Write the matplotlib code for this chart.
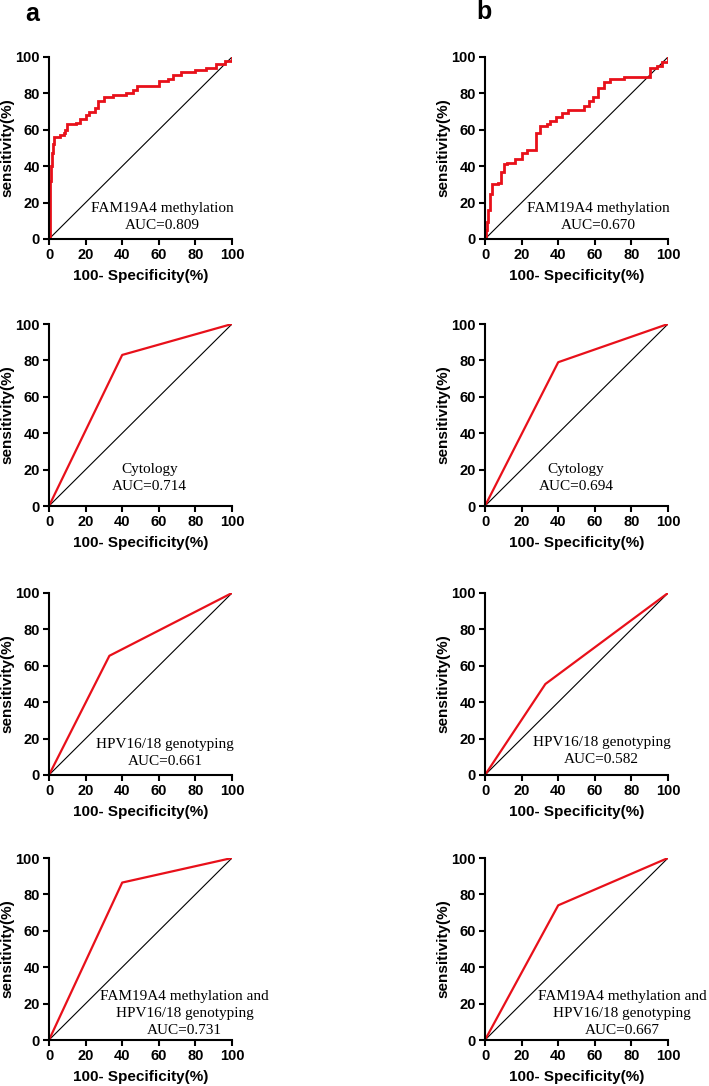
import matplotlib.pyplot as plt

# ROC data (100-specificity %, sensitivity %)
meth_a_fpr = [0, 0.5, 1, 1.5, 2, 3, 6, 8, 9, 10, 15, 17, 20, 22, 25, 27, 30, 35, 42, 46,
              48, 60, 65, 68, 72, 80, 86, 91, 96, 100]
meth_a_sens = [0, 32, 40, 47, 52, 56, 57, 58, 60, 63, 64, 66, 68, 70, 72, 76, 78, 79, 80, 82,
               84, 87, 88, 90, 92, 93, 94, 96, 98, 100]

meth_b_fpr = [0, 0.5, 0.9, 1.8, 2.7, 4, 7.3, 9, 10.4, 11.9, 16.4, 20, 22.8, 27.7, 30, 33.8,
              35.6, 39, 42, 45.6, 54, 56.6, 59, 62, 65, 68.4, 75.7, 90, 94, 96.7, 100]
meth_b_sens = [0, 5, 9.5, 16, 25, 30, 31, 37, 41, 42, 44, 47, 49, 58, 62, 63,
               65, 67, 69, 71, 73, 76, 78, 83, 86, 88, 89, 94, 95, 97, 100]

cyto_a = ([0, 40, 100], [0, 83, 100])
cyto_b = ([0, 40, 100], [0, 79, 100])
hpv_a = ([0, 33, 100], [0, 65.5, 100])
hpv_b = ([0, 33, 100], [0, 50, 100])
comb_a = ([0, 40, 100], [0, 86.5, 100])
comb_b = ([0, 40, 100], [0, 74, 100])

labels_a = ["FAM19A4 methylation\nAUC=0.809", "Cytology\nAUC=0.714",
            "HPV16/18 genotyping\nAUC=0.661",
            "FAM19A4 methylation and\nHPV16/18 genotyping\nAUC=0.731"]
labels_b = ["FAM19A4 methylation\nAUC=0.670", "Cytology\nAUC=0.694",
            "HPV16/18 genotyping\nAUC=0.582",
            "FAM19A4 methylation and\nHPV16/18 genotyping\nAUC=0.667"]

text_pos_a = [(62, 12), (55, 15.3), (63.4, 12.3), (74, 14.4)]
text_pos_b = [(62, 12), (49.7, 15.3), (63.6, 13.4), (75, 14.7)]

red = '#e8101a'
plt.rcParams['font.family'] = ['Liberation Sans', 'DejaVu Sans']

fig = plt.figure(figsize=(7.09, 10.86), dpi=100)

W, H = 709, 1086
col_left = [49, 485]
row_top = [57, 324, 593, 858]
ax_w, ax_h = 183, 182

curves_a = [(meth_a_fpr, meth_a_sens), cyto_a, hpv_a, comb_a]
curves_b = [(meth_b_fpr, meth_b_sens), cyto_b, hpv_b, comb_b]

for c, (curves, labels, tpos) in enumerate([(curves_a, labels_a, text_pos_a),
                                            (curves_b, labels_b, text_pos_b)]):
    for r in range(4):
        ax = fig.add_axes([col_left[c] / W, 1 - (row_top[r] + ax_h) / H, ax_w / W, ax_h / H])
        ax.plot([0, 100], [0, 100], color='black', lw=0.8)
        x, y = curves[r]
        if r == 0:
            ax.plot(x, y, color=red, lw=2.0, drawstyle='steps-post', solid_joinstyle='miter')
        else:
            ax.plot(x, y, color=red, lw=1.6)
        ax.set_xlim(0, 100)
        ax.set_ylim(0, 100)
        ax.set_xticks(range(0, 101, 20))
        ax.set_yticks(range(0, 101, 20))
        for s in ['top', 'right']:
            ax.spines[s].set_visible(False)
        for s in ['left', 'bottom']:
            ax.spines[s].set_linewidth(1.5)
        ax.tick_params(width=1.5, length=4, labelsize=10.5, pad=2.5)
        for lab in ax.get_xticklabels() + ax.get_yticklabels():
            lab.set_fontweight('bold')
        ax.set_xlabel('100- Specificity(%)', fontsize=11, fontweight='bold', labelpad=5)
        ax.set_ylabel('sensitivity(%)', fontsize=11, fontweight='bold', labelpad=1)
        ax.text(tpos[r][0], tpos[r][1], labels[r], ha='center', va='center',
                multialignment='center', fontsize=11, family='Liberation Serif',
                linespacing=1.38)

fig.text(32 / W, 1 - 14 / H, 'a', fontsize=18, fontweight='bold', ha='center', va='center')
fig.text(484 / W, 1 - 12 / H, 'b', fontsize=18, fontweight='bold', ha='center', va='center')

fig.savefig('out.png', dpi=100)
